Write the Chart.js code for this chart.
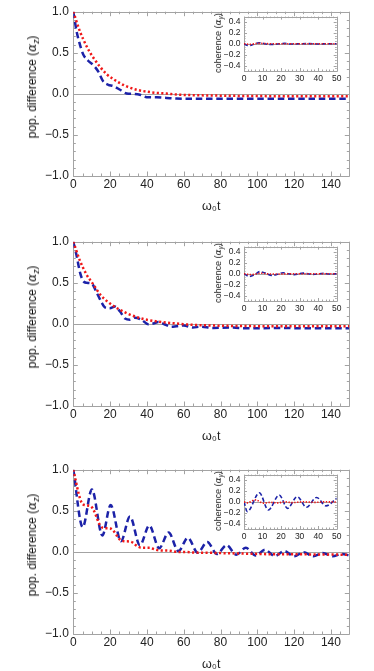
<!DOCTYPE html>
<html>
<head>
<meta charset="utf-8">
<script src="https://cdn.jsdelivr.net/npm/chart.js@4.4.1/dist/chart.umd.min.js"></script>
<style>
  html, body { margin: 0; padding: 0; background: #fff; }
  #page { position: relative; width: 374px; height: 671px; overflow: hidden; }
  .panel { position: absolute; left: 0; width: 374px; height: 222px; }
  .panel canvas.main { position: absolute; left: 0; top: 0; }
  .panel canvas.inset { position: absolute; left: 205px; top: 8px; }
  .ytitle {
    position: absolute; white-space: nowrap; color: #111;
    font-family: "Liberation Sans", Arial, sans-serif;
    transform: translate(-50%, -50%) rotate(-90deg);
  }
  .ytitle i { font-family: "DejaVu Serif", serif; }
  .ytitle sub { font-size: 70%; line-height: 0; vertical-align: -0.3em; font-style: italic; }
  .ytitle.big { font-size: 12px; left: 32px; top: 87px; }
  .ytitle.small { font-size: 9px; left: 218px; top: 43px; }
</style>
</head>
<body>
<div id="page">
  <div class="panel" style="top:0px">
    <canvas class="main" id="main1" width="374" height="222"></canvas>
    <canvas class="inset" id="inset1" width="140" height="80"></canvas>
    <div class="ytitle big">pop. difference (<i>α</i><sub>z</sub>)</div>
    <div class="ytitle small">coherence (<i>α</i><sub>y</sub>)</div>
  </div>
  <div class="panel" style="top:230px">
    <canvas class="main" id="main2" width="374" height="222"></canvas>
    <canvas class="inset" id="inset2" width="140" height="80"></canvas>
    <div class="ytitle big">pop. difference (<i>α</i><sub>z</sub>)</div>
    <div class="ytitle small">coherence (<i>α</i><sub>y</sub>)</div>
  </div>
  <div class="panel" style="top:458px">
    <canvas class="main" id="main3" width="374" height="222"></canvas>
    <canvas class="inset" id="inset3" width="140" height="80"></canvas>
    <div class="ytitle big">pop. difference (<i>α</i><sub>z</sub>)</div>
    <div class="ytitle small">coherence (<i>α</i><sub>y</sub>)</div>
  </div>
</div>
<script>
// tick labels
const xMainTicks = [0, 20, 40, 60, 80, 100, 120, 140];
const yMainTicks = [-1, -0.5, 0, 0.5, 1];
const xInsetTicks = [0, 10, 20, 30, 40, 50];
const yInsetTicks = [-0.4, -0.2, 0, 0.2, 0.4];

// panel 1 - population difference
const p1BlueT = [0, 1.8, 3.6, 5.4, 8.2, 10.9, 13.6, 16.3, 19, 21.7, 25.4, 29, 32.6, 36.2, 39.9, 45.3, 50.7, 56, 70, 100, 150];
const p1BlueZ = [1, 0.76, 0.6, 0.48, 0.4, 0.35, 0.27, 0.15, 0.11, 0.095, 0.05, 0.005, 0, -0.01, -0.04, -0.042, -0.05, -0.058, -0.06, -0.06, -0.06];
const p1RedT = [0, 3.6, 7.2, 10.9, 14.5, 18.1, 21.7, 25.4, 29, 34.4, 39.9, 45.3, 50.7, 56, 65, 80, 100, 150];
const p1RedZ = [1, 0.76, 0.58, 0.44, 0.33, 0.24, 0.18, 0.13, 0.09, 0.05, 0.027, 0.012, 0.004, -0.008, -0.016, -0.022, -0.027, -0.03];
// panel 1 - coherence inset
const i1BlueT = [0, 2, 4, 6, 8, 10, 13, 16, 19, 22, 25, 30, 35, 40, 45, 50];
const i1BlueY = [0, -0.03, -0.025, 0, 0.02, 0.01, -0.01, -0.01, 0, 0.008, -0.005, 0, 0.004, -0.003, 0, 0];
const i1RedT = [0, 3, 8, 15, 30, 50];
const i1RedY = [0, -0.01, 0.008, 0, 0, 0];

// panel 2
const p2BlueT = [0, 1.8, 3.6, 5.4, 7.2, 10, 12.7, 15.4, 17.2, 19.9, 22.6, 25.4, 28.1, 30.8, 33.5, 37.1, 40.8, 43.5, 46.2, 49.8, 53.4, 56, 60, 65, 69, 76, 85, 95, 110, 130, 150];
const p2BlueZ = [1, 0.83, 0.63, 0.52, 0.5, 0.49, 0.38, 0.26, 0.2, 0.19, 0.21, 0.15, 0.065, 0.05, 0.075, 0.05, -0.005, 0.004, 0.024, -0.008, -0.035, -0.028, -0.02, -0.045, -0.035, -0.05, -0.045, -0.055, -0.05, -0.055, -0.055];
const p2RedT = [0, 3.6, 7.2, 10.9, 14.5, 18.1, 21.7, 25.4, 29, 34.4, 39.9, 45.3, 50.7, 56, 62, 75, 100, 150];
const p2RedZ = [1, 0.77, 0.6, 0.48, 0.36, 0.28, 0.22, 0.17, 0.13, 0.083, 0.05, 0.03, 0.015, 0.005, -0.008, -0.02, -0.028, -0.03];
const i2BlueT = [0, 3, 6, 8.5, 11, 15, 18, 21, 24, 27, 32, 37, 43, 46, 50];
const i2BlueY = [0, -0.05, -0.01, 0.04, 0.02, -0.03, -0.01, 0.02, 0, -0.015, 0.012, -0.01, 0.008, -0.004, 0];
const i2RedT = [0, 4, 9, 15, 25, 50];
const i2RedY = [0, -0.015, 0.01, -0.005, 0, 0];

// panel 3
const p3BlueT = [0, 5.1, 10.1, 15.8, 20.3, 25.9, 30.8, 36.2, 41.3, 46.7, 51.8, 57.1, 62.3, 67.6, 72.8, 78.1, 83.3, 88.6, 93.8, 99.1, 104.2, 109.5, 114.7, 120, 125.2, 130.4, 135.6, 140.9, 146, 150];
const p3BlueZ = [1, 0.3, 0.76, 0.2, 0.57, 0.13, 0.43, 0.08, 0.32, 0.045, 0.235, 0.01, 0.17, -0.01, 0.12, -0.025, 0.08, -0.035, 0.05, -0.045, 0.025, -0.05, 0.01, -0.055, -0.005, -0.055, -0.015, -0.055, -0.025, -0.045];
const p3RedT = [0, 1.5, 3, 4.5, 6, 9, 10.5, 12, 13.5, 15, 16.5, 20, 21.5, 23, 24.5, 26, 27.5, 31, 32.5, 34, 35.5, 37, 41.5, 43, 45, 47, 52, 54, 56, 62, 65, 70, 75, 80, 90, 100, 110, 120, 135, 150];
const p3RedZ = [1, 0.85, 0.7, 0.6, 0.57, 0.56, 0.53, 0.46, 0.37, 0.31, 0.29, 0.285, 0.265, 0.22, 0.17, 0.14, 0.13, 0.125, 0.11, 0.08, 0.06, 0.05, 0.05, 0.04, 0.025, 0.018, 0.015, 0.008, 0, -0.002, -0.008, -0.01, -0.012, -0.015, -0.02, -0.025, -0.03, -0.03, -0.032, -0.035];
const i3BlueT = [0, 1.8, 8.3, 13.1, 19, 23.5, 28.7, 33.7, 39.2, 44.2, 50];
const i3BlueY = [0, -0.18, 0.165, -0.15, 0.125, -0.12, 0.095, -0.1, 0.08, -0.075, 0.065];
const i3RedT = [0, 2, 4.5, 6.5, 8.5, 10.5, 14, 18, 22, 26, 32, 38, 44, 50];
const i3RedY = [0, -0.02, 0.02, 0.035, 0, -0.025, -0.01, -0.02, 0, -0.015, 0, -0.01, 0, -0.005];

const FONT = '"Liberation Sans", Arial, sans-serif';
const BLUE = '#1c22a8';
const RED = '#f01818';
const FRAME = '#a3a3a3';
const TEXT = '#222';

const pts = (t, v) => t.map((x, i) => ({ x, y: v[i] }));
const fmt = v => (v < -1e-9 ? '\u2212' : '') + Math.abs(v).toFixed(1);

// Mathematica style frame: box, inward ticks on all four sides, axis at y = 0
const frameTicks = {
  id: 'frameTicks',
  beforeDatasetsDraw(chart, args, o) {
    const { ctx, chartArea: a, scales: { x, y } } = chart;
    const r = v => Math.round(v) + 0.5;
    ctx.save();
    ctx.strokeStyle = FRAME;
    ctx.lineWidth = 1;
    ctx.beginPath();
    const y0 = r(y.getPixelForValue(0));
    ctx.moveTo(a.left, y0); ctx.lineTo(a.right, y0);
    ctx.stroke();
    ctx.beginPath();
    ctx.rect(r(a.left), r(a.top), Math.round(a.right - a.left), Math.round(a.bottom - a.top));
    const isMajor = (v, step) => Math.abs(v / step - Math.round(v / step)) < 1e-6;
    const nx = Math.round((x.max - x.min) / o.xMinor);
    for (let k = 0; k <= nx; k++) {
      const v = x.min + k * o.xMinor;
      const px = r(x.getPixelForValue(v));
      const len = isMajor(v, o.xMajor) ? o.major : o.minor;
      ctx.moveTo(px, a.bottom); ctx.lineTo(px, a.bottom - len);
      ctx.moveTo(px, a.top); ctx.lineTo(px, a.top + len);
    }
    const ny = Math.round((y.max - y.min) / o.yMinor);
    for (let k = 0; k <= ny; k++) {
      const v = y.min + k * o.yMinor;
      const py = r(y.getPixelForValue(v));
      const len = isMajor(v, o.yMajor) ? o.major : o.minor;
      ctx.moveTo(a.left, py); ctx.lineTo(a.left + len, py);
      ctx.moveTo(a.right, py); ctx.lineTo(a.right - len, py);
    }
    ctx.stroke();
    ctx.restore();
  }
};

function lineSets(blueT, blueV, redT, redV, w) {
  return [
    { data: pts(redT, redV), borderColor: RED, borderWidth: w, borderDash: [w * 0.85, w * 0.95],
      pointRadius: 0, cubicInterpolationMode: 'monotone', fill: false },
    { data: pts(blueT, blueV), borderColor: BLUE, borderWidth: w, borderDash: [w * 2.6, w * 1.5],
      pointRadius: 0, cubicInterpolationMode: 'monotone', fill: false }
  ];
}

function makeMain(id, blueT, blueV, redT, redV) {
  return new Chart(document.getElementById(id), {
    type: 'line',
    data: { datasets: lineSets(blueT, blueV, redT, redV, 2.5) },
    options: {
      responsive: false, animation: false, events: [],
      layout: { padding: { top: 6, right: 24.7, left: 0, bottom: 0 } },
      plugins: {
        legend: { display: false }, tooltip: { enabled: false },
        frameTicks: { xMinor: 5, xMajor: 20, yMinor: 0.1, yMajor: 0.5, major: 4.5, minor: 2.5 }
      },
      scales: {
        x: {
          type: 'linear', min: 0, max: 150,
          grid: { display: false, drawTicks: false }, border: { display: false },
          afterBuildTicks: s => { s.ticks = xMainTicks.map(v => ({ value: v })); },
          afterFit: s => { s.height = 46; },
          ticks: { padding: 1, color: TEXT, font: { size: 12, family: FONT }, maxRotation: 0, autoSkip: false },
          title: { display: true, text: 'ω₀t', color: TEXT, font: { size: 12.5, family: FONT }, padding: { top: 0, bottom: 7.5 } }
        },
        y: {
          type: 'linear', min: -1, max: 1,
          grid: { display: false, drawTicks: false }, border: { display: false },
          afterBuildTicks: s => { s.ticks = yMainTicks.map(v => ({ value: v })); },
          afterFit: s => { s.width = 73.3; },
          ticks: { padding: 4.5, color: TEXT, font: { size: 12, family: FONT }, autoSkip: false, callback: fmt }
        }
      }
    },
    plugins: [frameTicks]
  });
}

function makeInset(id, blueT, blueV, redT, redV) {
  return new Chart(document.getElementById(id), {
    type: 'line',
    data: { datasets: lineSets(blueT, blueV, redT, redV, 1.6) },
    options: {
      responsive: false, animation: false, events: [],
      layout: { padding: { top: 6, right: 8.3, left: 0, bottom: 0 } },
      plugins: {
        legend: { display: false }, tooltip: { enabled: false },
        frameTicks: { xMinor: 2, xMajor: 10, yMinor: 0.05, yMajor: 0.2, major: 3, minor: 1.5 }
      },
      scales: {
        x: {
          type: 'linear', min: 0, max: 50,
          grid: { display: false, drawTicks: false }, border: { display: false },
          afterBuildTicks: s => { s.ticks = xInsetTicks.map(v => ({ value: v })); },
          afterFit: s => { s.height = 17; },
          ticks: { padding: 2.5, color: TEXT, font: { size: 8.5, family: FONT }, maxRotation: 0, autoSkip: false }
        },
        y: {
          type: 'linear', min: -0.5, max: 0.5,
          grid: { display: false, drawTicks: false }, border: { display: false },
          afterBuildTicks: s => { s.ticks = yInsetTicks.map(v => ({ value: v })); },
          afterFit: s => { s.width = 39; },
          ticks: { padding: 3.5, color: TEXT, font: { size: 8.5, family: FONT }, autoSkip: false, callback: fmt }
        }
      }
    },
    plugins: [frameTicks]
  });
}

makeMain('main1', p1BlueT, p1BlueZ, p1RedT, p1RedZ);
makeInset('inset1', i1BlueT, i1BlueY, i1RedT, i1RedY);
makeMain('main2', p2BlueT, p2BlueZ, p2RedT, p2RedZ);
makeInset('inset2', i2BlueT, i2BlueY, i2RedT, i2RedY);
makeMain('main3', p3BlueT, p3BlueZ, p3RedT, p3RedZ);
makeInset('inset3', i3BlueT, i3BlueY, i3RedT, i3RedY);
</script>
</body>
</html>
